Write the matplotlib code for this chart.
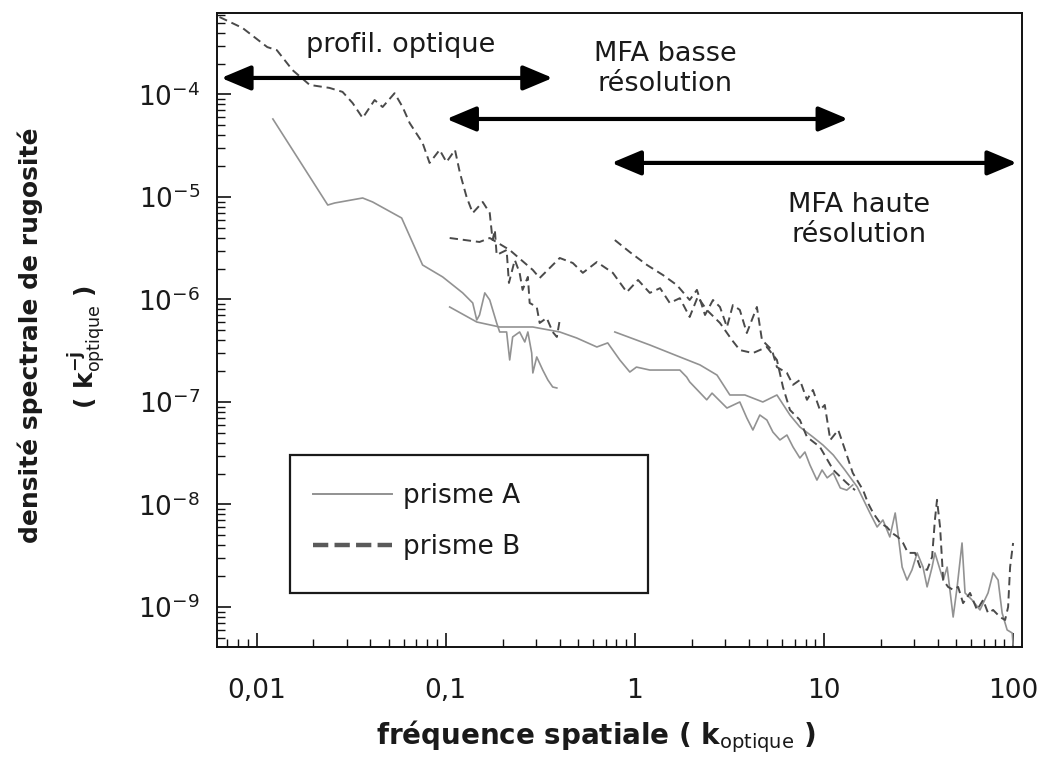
import matplotlib
matplotlib.use('Agg')
import matplotlib.pyplot as plt
from matplotlib.patches import Rectangle
from matplotlib.ticker import FixedLocator, FixedFormatter, LogLocator, NullFormatter

plt.rcParams['font.family'] = ['DejaVu Sans']
plt.rcParams['mathtext.default'] = 'regular'
plt.rcParams['lines.scale_dashes'] = False

# ---------------- data ----------------
# prisme A : profilomètre optique
A_opt_x = [0.0122, 0.0238, 0.0259, 0.0364, 0.0411, 0.0585, 0.0755, 0.0964, 0.123, 0.139,
           0.146, 0.151, 0.161, 0.171, 0.186, 0.193, 0.210, 0.218, 0.226, 0.246,
           0.262, 0.272, 0.285, 0.289, 0.303, 0.326, 0.347, 0.368, 0.387]
A_opt_y = [5.77e-5, 8.35e-6, 8.74e-6, 9.78e-6, 8.94e-6, 6.24e-6, 2.17e-6, 1.66e-6, 1.16e-6, 9.25e-7,
           6.31e-7, 7.06e-7, 1.16e-6, 9.89e-7, 5.9e-7, 4.82e-7, 4.82e-7, 2.57e-7, 4.31e-7, 4.82e-7,
           3.85e-7, 4.82e-7, 3.0e-7, 1.92e-7, 2.75e-7, 2.05e-7, 1.64e-7, 1.40e-7, 1.37e-7]
# prisme A : MFA basse résolution
A_bas_x = [0.105, 0.146, 0.193, 0.289, 0.401, 0.493, 0.630, 0.719, 0.833, 0.941,
           1.02, 1.20, 1.36, 1.73, 1.88, 1.95, 2.40, 2.56, 3.07, 3.59,
           3.91, 4.21, 4.58, 4.99, 5.37, 5.85, 6.37, 6.86, 7.46, 7.93,
           8.43, 9.18, 9.77, 10.4, 11.2, 12.2, 13.2, 14.2]
A_bas_y = [8.45e-7, 6.03e-7, 5.39e-7, 5.39e-7, 4.82e-7, 4.21e-7, 3.44e-7, 3.77e-7, 2.57e-7, 1.96e-7,
           2.19e-7, 2.05e-7, 2.05e-7, 2.05e-7, 1.75e-7, 1.57e-7, 1.05e-7, 1.22e-7, 8.73e-8, 1.0e-7,
           6.98e-8, 5.33e-8, 7.46e-8, 6.67e-8, 5.09e-8, 4.26e-8, 4.76e-8, 3.64e-8, 2.84e-8, 3.25e-8,
           2.43e-8, 1.73e-8, 2.17e-8, 1.82e-8, 2.03e-8, 1.45e-8, 1.38e-8, 1.55e-8]
# prisme A : MFA haute résolution
A_haute_x = [0.784, 1.20, 1.73, 2.21, 2.72, 3.18, 3.82, 4.75, 5.64, 6.61,
             7.46, 8.74, 9.88, 11.2, 12.9, 15.0, 17.5, 19.1, 20.5, 22.3,
             23.8, 24.6, 25.9, 27.5, 29.2, 31.1, 33.4, 35.1, 37.3, 38.6,
             42.7, 44.8, 48.2, 50.6, 53.7, 55.7, 60.7, 66.8, 73.7, 78.4,
             83.3, 87.5, 93.0, 98.9, 100]
A_haute_y = [4.82e-7, 3.6e-7, 2.75e-7, 2.30e-7, 1.83e-7, 1.17e-7, 1.17e-7, 1.0e-7, 1.17e-7, 7.46e-8,
             5.7e-8, 4.56e-8, 3.8e-8, 3.04e-8, 2.17e-8, 1.48e-8, 8.26e-9, 6.03e-9, 7.06e-9, 4.82e-9,
             8.26e-9, 5.27e-9, 2.45e-9, 1.83e-9, 2.3e-9, 3.37e-9, 2.45e-9, 1.57e-9, 2.45e-9, 3.37e-9,
             1.83e-9, 2.45e-9, 7.98e-10, 1.57e-9, 4.21e-9, 1.37e-9, 1.17e-9, 9.35e-10, 1.37e-9, 2.15e-9,
             1.83e-9, 8.73e-10, 5.97e-10, 5.57e-10, 4.26e-10]

# prisme B : profilomètre optique
B_opt_x = [0.00637, 0.00843, 0.0114, 0.0128, 0.0155, 0.0191, 0.0243, 0.0285, 0.0322, 0.0364,
           0.0421, 0.0464, 0.0537, 0.0592, 0.0645, 0.0755, 0.0822, 0.0929, 0.101, 0.112,
           0.119, 0.129, 0.139, 0.157, 0.171, 0.177, 0.182, 0.186, 0.210, 0.216,
           0.232, 0.246, 0.255, 0.272, 0.278, 0.303, 0.314, 0.342, 0.368, 0.387, 0.401]
B_opt_y = [5.70e-4, 4.46e-4, 2.90e-4, 2.71e-4, 1.73e-4, 1.24e-4, 1.16e-4, 1.06e-4, 8.26e-5, 5.9e-5,
           8.83e-5, 7.55e-5, 1.03e-4, 7.55e-5, 5.27e-5, 3.37e-5, 2.15e-5, 2.88e-5, 2.19e-5, 2.88e-5,
           1.71e-5, 1.0e-5, 6.98e-6, 8.94e-6, 6.98e-6, 3.8e-6, 4.76e-6, 2.72e-6, 3.04e-6, 1.45e-6,
           2.43e-6, 1.82e-6, 1.24e-6, 1.66e-6, 9.25e-7, 8.45e-7, 5.9e-7, 6.61e-7, 4.82e-7, 4.31e-7, 6.31e-7]
# prisme B : MFA basse résolution
B_bas_x = [0.105, 0.151, 0.171, 0.218, 0.289, 0.314, 0.401, 0.470, 0.531, 0.630,
           0.765, 0.907, 1.04, 1.20, 1.36, 1.53, 1.73, 1.95, 2.15, 2.40,
           2.82, 3.26, 3.59, 4.21, 4.99, 5.64, 6.07, 6.61, 7.46, 8.13,
           9.52, 11.2, 13.2, 14.6]
B_bas_y = [3.98e-6, 3.64e-6, 3.98e-6, 3.04e-6, 1.94e-6, 1.62e-6, 2.54e-6, 2.27e-6, 1.82e-6, 2.32e-6,
           1.82e-6, 1.18e-6, 1.55e-6, 1.16e-6, 1.29e-6, 9.25e-7, 1.03e-6, 6.75e-7, 1.06e-6, 7.91e-7,
           5.9e-7, 4.03e-7, 3.21e-7, 3.0e-7, 3.44e-7, 2.57e-7, 1.40e-7, 8.36e-8, 6.67e-8, 4.56e-8,
           3.64e-8, 2.17e-8, 1.62e-8, 1.38e-8]
# prisme B : MFA haute résolution
B_haute_x = [0.784, 0.941, 1.16, 1.41, 1.67, 1.95, 2.13, 2.35, 2.59, 2.82,
             3.07, 3.30, 3.59, 3.91, 4.42, 4.70, 5.31, 5.64, 6.37, 6.86,
             7.46, 8.13, 8.74, 9.52, 10.1, 10.8, 11.9, 13.2, 14.2, 16.1,
             17.1, 18.2, 19.8, 21.5, 22.9, 24.6, 26.2, 27.8, 30.3, 32.2,
             35.1, 37.3, 38.6, 39.6, 41.1, 42.7, 45.3, 48.2, 51.2, 54.4,
             59.2, 64.5, 69.4, 73.7, 78.4, 85.3, 90.7, 94.1, 96.4, 100]
B_haute_y = [3.8e-6, 2.9e-6, 2.17e-6, 1.73e-6, 1.38e-6, 9.89e-7, 1.24e-6, 7.06e-7, 9.89e-7, 8.45e-7,
             5.39e-7, 8.83e-7, 7.91e-7, 4.71e-7, 8.45e-7, 4.03e-7, 3.21e-7, 2.19e-7, 1.92e-7, 1.47e-7,
             1.64e-7, 1.05e-7, 1.31e-7, 8.36e-8, 9.35e-8, 4.26e-8, 5.33e-8, 3.04e-8, 2.03e-8, 1.38e-8,
             1.03e-8, 8.26e-9, 6.61e-9, 6.03e-9, 5.27e-9, 4.82e-9, 4.21e-9, 3.37e-9, 3.37e-9, 2.45e-9,
             2.3e-9, 3.08e-9, 7.06e-9, 1.11e-8, 6.03e-9, 1.83e-9, 1.57e-9, 1.47e-9, 1.57e-9, 1.09e-9,
             1.37e-9, 9.35e-10, 1.17e-9, 8.73e-10, 9.35e-10, 7.98e-10, 7.46e-10, 1e-9, 2.45e-9, 4.21e-9]

x_ticks = [0.01, 0.1, 1, 10, 100]
x_tick_labels = ['0,01', '0,1', '1', '10', '100']
y_ticks = [1e-9, 1e-8, 1e-7, 1e-6, 1e-5, 1e-4]
y_tick_labels = ['10$^{-9}$', '10$^{-8}$', '10$^{-7}$', '10$^{-6}$', '10$^{-5}$', '10$^{-4}$']
series_labels = ['prisme A', 'prisme B']
range_labels = ['profil. optique', 'MFA basse\nrésolution', 'MFA haute\nrésolution']

# ---------------- figure ----------------
fig = plt.figure(figsize=(10.46, 7.6), dpi=100)
ax = fig.add_axes([0.2072, 0.1487, 0.7699, 0.8342])

colA = '#929292'
colB = '#4a4a4a'
lwA = 1.2
lwB = 1.4
dashB = (6, 3.5)

lA, = ax.plot(A_opt_x, A_opt_y, color=colA, lw=lwA)
ax.plot(A_bas_x, A_bas_y, color=colA, lw=lwA)
ax.plot(A_haute_x, A_haute_y, color=colA, lw=lwA)
lB, = ax.plot(B_opt_x, B_opt_y, color=colB, lw=lwB, dashes=dashB)
ax.plot(B_bas_x, B_bas_y, color=colB, lw=lwB, dashes=dashB)
ax.plot(B_haute_x, B_haute_y, color=colB, lw=lwB, dashes=dashB)

ax.set_xscale('log')
ax.set_yscale('log')
ax.set_xlim(0.00616, 111.5)
ax.set_ylim(4.07e-10, 6.24e-4)

ax.xaxis.set_major_locator(FixedLocator(x_ticks))
ax.xaxis.set_major_formatter(FixedFormatter(x_tick_labels))
ax.xaxis.set_minor_locator(LogLocator(base=10, subs=range(2, 10), numticks=30))
ax.xaxis.set_minor_formatter(NullFormatter())
ax.yaxis.set_major_locator(FixedLocator(y_ticks))
ax.yaxis.set_major_formatter(FixedFormatter(y_tick_labels))
ax.yaxis.set_minor_locator(LogLocator(base=10, subs=range(2, 10), numticks=30))
ax.yaxis.set_minor_formatter(NullFormatter())

ax.tick_params(which='both', direction='in', top=False, right=False, color='#111111')
ax.tick_params(which='major', length=10, width=1.2, labelsize=19, labelcolor='#1a1a1a')
ax.tick_params(which='minor', length=5.5, width=1.0)
ax.tick_params(axis='x', which='major', pad=22)
ax.tick_params(axis='y', which='major', pad=12)
for s in ax.spines.values():
    s.set_linewidth(1.4)
    s.set_color('#111111')

# range arrows
arrow_kw = dict(arrowstyle='<|-|>,head_length=1.0,head_width=0.42', lw=3.0,
                color='black', mutation_scale=18, shrinkA=0, shrinkB=0)
ax.annotate('', xy=(0.368, 1.45e-4), xytext=(0.0065, 1.45e-4), arrowprops=arrow_kw)
ax.annotate('', xy=(13.4, 5.77e-5), xytext=(0.101, 5.77e-5), arrowprops=arrow_kw)
ax.annotate('', xy=(104.7, 2.15e-5), xytext=(0.753, 2.15e-5), arrowprops=arrow_kw)

txt_kw = dict(transform=ax.transAxes, ha='center', va='center', fontsize=19.5,
              color='#1a1a1a', linespacing=1.2, multialignment='center')
ax.text(0.229, 0.950, range_labels[0], **txt_kw)
ax.text(0.557, 0.912, range_labels[1], **txt_kw)
ax.text(0.798, 0.674, range_labels[2], **txt_kw)

# legend with box
ax.add_patch(Rectangle((0.091, 0.085), 0.445, 0.218, transform=ax.transAxes,
                       fill=False, lw=1.6, ec='#1a1a1a', zorder=5))
leg = ax.legend([lA, lB], series_labels, loc='center left',
                bbox_to_anchor=(0.1196, 0.198), borderaxespad=0, borderpad=0,
                frameon=False, fontsize=19, handlelength=3.0, handletextpad=0.4,
                labelspacing=0.95)
for t in leg.get_texts():
    t.set_color('#1a1a1a')
hl = leg.get_lines()
hl[0].set_linewidth(1.4)
hl[1].set_linewidth(3.2)
hl[1].set_color('#5a5a5a')
hl[1].set_dashes((11, 4.5))

# axis labels
fig.text(0.570, 0.021, 'fréquence spatiale ( k$_{\\mathrm{optique}}$ )',
         ha='center', va='baseline', fontsize=20, fontweight='bold', color='#1a1a1a')
fig.text(0.0287, 0.559, 'densité spectrale de rugosité', rotation=90,
         ha='center', va='center', fontsize=18, fontweight='bold', color='#1a1a1a')
fig.text(0.084, 0.543, '( k$_{\\mathrm{optique}}^{-j}$ )', rotation=90,
         ha='center', va='center', fontsize=18, fontweight='bold', color='#1a1a1a')

fig.savefig('out.png', dpi=100)
